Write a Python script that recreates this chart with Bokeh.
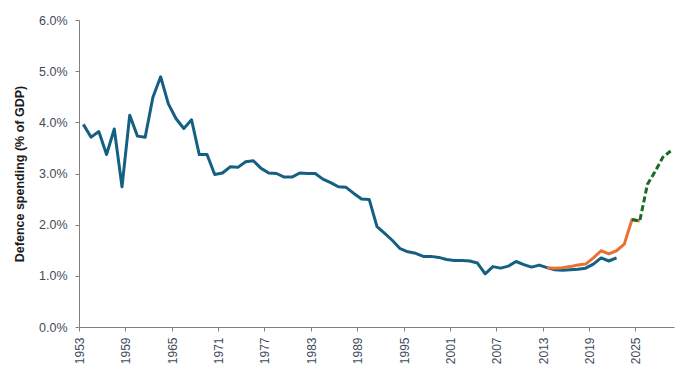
from bokeh.plotting import figure
from bokeh.models import Range1d, FixedTicker, PrintfTickFormatter
from bokeh.embed import file_html
from bokeh.resources import INLINE

# Historical defence spending (% of GDP)
hist_years = list(range(1953, 2023))
hist_values = [
    3.97, 3.72, 3.83, 3.38, 3.88, 2.75, 4.15, 3.74, 3.72, 4.50,
    4.90, 4.37, 4.08, 3.89, 4.06, 3.38, 3.38, 2.99, 3.02, 3.14,
    3.13, 3.24, 3.26, 3.11, 3.02, 3.01, 2.94, 2.94, 3.02, 3.01,
    3.01, 2.90, 2.83, 2.75, 2.74, 2.62, 2.51, 2.50, 1.97, 1.84,
    1.70, 1.54, 1.48, 1.45, 1.39, 1.39, 1.37, 1.33, 1.31, 1.31,
    1.30, 1.26, 1.05, 1.19, 1.16, 1.20, 1.29, 1.23, 1.18, 1.22,
    1.17, 1.13, 1.12, 1.13, 1.14, 1.16, 1.24, 1.36, 1.30, 1.36,
]

# Revised series
rev_years = list(range(2013, 2026))
rev_values = [1.17, 1.16, 1.17, 1.19, 1.22, 1.24, 1.36, 1.50, 1.44, 1.50, 1.63, 2.11, 2.08]

# Projection (dashed)
proj_years = [2024, 2025, 2026, 2027, 2028, 2029]
proj_values = [2.11, 2.08, 2.80, 3.05, 3.33, 3.45]

tick_years = [1953, 1959, 1965, 1971, 1977, 1983, 1989, 1995, 2001, 2007, 2013, 2019, 2025]
y_ticks = [0, 1, 2, 3, 4, 5, 6]

first_year, last_year = 1953, 2029

p = figure(
    width=676, height=372,
    output_backend="svg", toolbar_location=None,
    x_range=Range1d(first_year - 0.5, last_year + 0.5),
    y_range=Range1d(0, 6),
    min_border_left=79, min_border_right=2, min_border_top=20, min_border_bottom=45,
)
p.outline_line_color = None
p.background_fill_color = "white"
p.border_fill_color = "white"
p.xgrid.visible = False
p.ygrid.visible = False

p.line(hist_years, hist_values, line_color="#156082", line_width=3, line_join="round")
p.line(rev_years, rev_values, line_color="#E97132", line_width=3, line_join="round")
p.line(proj_years, proj_values, line_color="#196B24", line_width=3, line_dash="6 3")

label_color = "#3f4b5b"
axis_color = "#808080"

# x axis: ticks on category boundaries
boundaries = [y - 0.5 for y in tick_years]
p.xaxis.ticker = FixedTicker(ticks=boundaries)
p.xaxis.major_label_overrides = {b: str(y) for b, y in zip(boundaries, tick_years)}
p.xaxis.major_label_orientation = 1.5707963
p.xaxis.minor_tick_line_color = None
p.xaxis.major_tick_in = 0
p.xaxis.major_tick_out = 4
p.xaxis.major_label_standoff = 6
p.xaxis.axis_line_color = axis_color
p.xaxis.major_tick_line_color = axis_color
p.xaxis.major_label_text_font = "Liberation Sans"
p.xaxis.major_label_text_font_size = "12px"
p.xaxis.major_label_text_color = label_color

p.yaxis.ticker = FixedTicker(ticks=y_ticks)
p.yaxis.formatter = PrintfTickFormatter(format="%.1f%%")
p.yaxis.minor_tick_line_color = None
p.yaxis.major_tick_in = 0
p.yaxis.major_tick_out = 4
p.yaxis.major_label_standoff = 8
p.yaxis.axis_line_color = axis_color
p.yaxis.major_tick_line_color = axis_color
p.yaxis.major_label_text_font = "Liberation Sans"
p.yaxis.major_label_text_font_size = "12.5px"
p.yaxis.major_label_text_color = label_color
p.yaxis.axis_label = "Defence spending (% of GDP)"
p.yaxis.axis_label_text_font = "Liberation Sans"
p.yaxis.axis_label_text_font_style = "bold"
p.yaxis.axis_label_text_font_size = "12.5px"
p.yaxis.axis_label_text_color = "#1a1a1a"
p.yaxis.axis_label_standoff = 9

open("out.html", "w").write(file_html(p, INLINE))
